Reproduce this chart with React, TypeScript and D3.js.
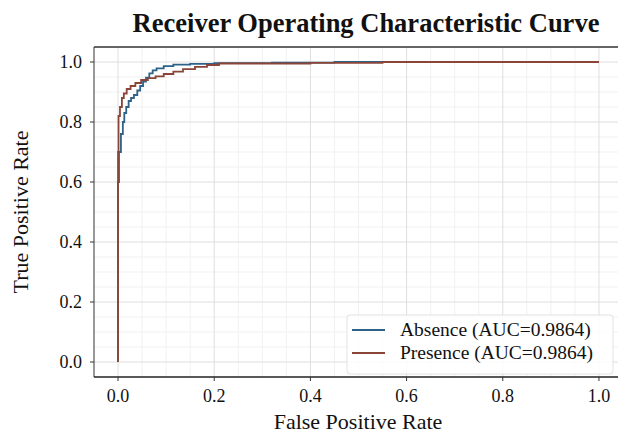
import React from "react";
import * as d3 from "d3";

// ROC curve points (false positive rate / true positive rate) per class
const absenceFpr = [0, 0, 0.002, 0.002, 0.006, 0.006, 0.010, 0.010, 0.013, 0.013, 0.017, 0.017, 0.022, 0.022, 0.027, 0.027, 0.033, 0.033, 0.040, 0.040, 0.046, 0.046, 0.052, 0.052, 0.058, 0.058, 0.065, 0.065, 0.072, 0.072, 0.080, 0.080, 0.095, 0.095, 0.115, 0.115, 0.150, 0.150, 0.200, 0.200, 0.320, 0.320, 0.450, 0.450, 1.0];
const absenceTpr = [0, 0.60, 0.60, 0.70, 0.70, 0.76, 0.76, 0.80, 0.80, 0.83, 0.83, 0.85, 0.85, 0.87, 0.87, 0.88, 0.88, 0.89, 0.89, 0.905, 0.905, 0.92, 0.92, 0.935, 0.935, 0.948, 0.948, 0.962, 0.962, 0.972, 0.972, 0.979, 0.979, 0.986, 0.986, 0.991, 0.991, 0.994, 0.994, 0.996, 0.996, 0.998, 0.998, 1.0, 1.0];

const presenceFpr = [0, 0, 0.001, 0.001, 0.004, 0.004, 0.008, 0.008, 0.012, 0.012, 0.018, 0.018, 0.026, 0.026, 0.036, 0.036, 0.048, 0.048, 0.062, 0.062, 0.078, 0.078, 0.095, 0.095, 0.115, 0.115, 0.135, 0.135, 0.160, 0.160, 0.185, 0.185, 0.210, 0.210, 0.40, 0.40, 0.55, 0.55, 1.0];
const presenceTpr = [0, 0.70, 0.70, 0.82, 0.82, 0.85, 0.85, 0.88, 0.88, 0.895, 0.895, 0.91, 0.91, 0.92, 0.92, 0.93, 0.93, 0.94, 0.94, 0.946, 0.946, 0.952, 0.952, 0.96, 0.96, 0.968, 0.968, 0.976, 0.976, 0.984, 0.984, 0.99, 0.99, 0.995, 0.995, 0.997, 0.997, 1.0, 1.0];

const seriesNames = ["Absence", "Presence"];
const aucValues = [0.9864, 0.9864];
const tickValues = [0, 0.2, 0.4, 0.6, 0.8, 1.0];

const W = 618;
const H = 439;
const FONT = "'Liberation Serif', 'Times New Roman', serif";

export default function App() {
  const x = d3.scaleLinear().domain([-0.05, 1.05]).range([94, 623]);
  const y = d3.scaleLinear().domain([-0.05, 1.05]).range([377, 47]);

  const series = [
    { name: seriesNames[0], fpr: absenceFpr, tpr: absenceTpr, color: "#2f6288", auc: aucValues[0] },
    { name: seriesNames[1], fpr: presenceFpr, tpr: presenceTpr, color: "#8a4538", auc: aucValues[1] },
  ];

  const line = d3
    .line<[number, number]>()
    .x((d) => x(d[0]))
    .y((d) => y(d[1]));

  const minor = d3.range(0, 1.0001, 0.05).filter((v) => Math.abs(Math.round(v * 5) - v * 5) > 1e-6);

  const [x0, x1] = x.range();
  const [y0, y1] = y.range();

  return (
    <svg width={W} height={H} style={{ position: "absolute", left: 0, top: 0, background: "#fff" }}>
      <rect x={0} y={0} width={W} height={H} fill="#fff" />
      {/* grid */}
      {minor.map((v) => (
        <g key={"m" + v}>
          <line x1={x(v)} x2={x(v)} y1={y1} y2={y0} stroke="#f1f1f1" strokeWidth={1} />
          <line x1={x0} x2={x1} y1={y(v)} y2={y(v)} stroke="#f1f1f1" strokeWidth={1} />
        </g>
      ))}
      {tickValues.map((v) => (
        <g key={"g" + v}>
          <line x1={x(v)} x2={x(v)} y1={y1} y2={y0} stroke="#dedede" strokeWidth={1} />
          <line x1={x0} x2={x1} y1={y(v)} y2={y(v)} stroke="#dedede" strokeWidth={1} />
        </g>
      ))}
      {/* curves */}
      {series.map((s) => (
        <path
          key={s.name}
          d={line(s.fpr.map((f, i) => [f, s.tpr[i]] as [number, number])) || ""}
          fill="none"
          stroke={s.color}
          strokeWidth={1.8}
        />
      ))}
      {/* frame */}
      <line x1={x0} x2={x0} y1={y1} y2={y0} stroke="#555" strokeWidth={1.2} />
      <line x1={x0} x2={x1} y1={y0} y2={y0} stroke="#222" strokeWidth={1.4} />
      <line x1={x0} x2={x1} y1={y1} y2={y1} stroke="#333" strokeWidth={1.4} />
      {/* ticks */}
      {tickValues.map((v) => (
        <g key={"t" + v}>
          <line x1={x(v)} x2={x(v)} y1={y0} y2={y0 + 4} stroke="#333" />
          <text x={x(v)} y={y0 + 25} textAnchor="middle" fontFamily={FONT} fontSize={18} fill="#111">
            {d3.format(".1f")(v)}
          </text>
          <line x1={x0} x2={x0 - 4} y1={y(v)} y2={y(v)} stroke="#333" />
          <text x={x0 - 12} y={y(v) + 6} textAnchor="end" fontFamily={FONT} fontSize={18} fill="#111">
            {d3.format(".1f")(v)}
          </text>
        </g>
      ))}
      {/* axis labels */}
      <text x={358} y={429} textAnchor="middle" fontFamily={FONT} fontSize={22} fill="#111">
        False Positive Rate
      </text>
      <text
        transform={`translate(28, ${(y0 + y1) / 2}) rotate(-90)`}
        textAnchor="middle"
        fontFamily={FONT}
        fontSize={22}
        fill="#111"
      >
        True Positive Rate
      </text>
      {/* title */}
      <text x={366} y={32} textAnchor="middle" fontFamily={FONT} fontSize={26.5} fontWeight="bold" fill="#111">
        Receiver Operating Characteristic Curve
      </text>
      {/* legend */}
      <rect x={347} y={315} width={266} height={59} rx={3} fill="#fff" fillOpacity={0.85} stroke="#e2e2e2" />
      {series.map((s, i) => (
        <g key={"l" + s.name}>
          <line x1={352} x2={385} y1={330 + i * 23} y2={330 + i * 23} stroke={s.color} strokeWidth={2} />
          <text x={400} y={336 + i * 23} fontFamily={FONT} fontSize={19.5} fill="#111">
            {`${s.name} (AUC=${s.auc.toFixed(4)})`}
          </text>
        </g>
      ))}
    </svg>
  );
}
